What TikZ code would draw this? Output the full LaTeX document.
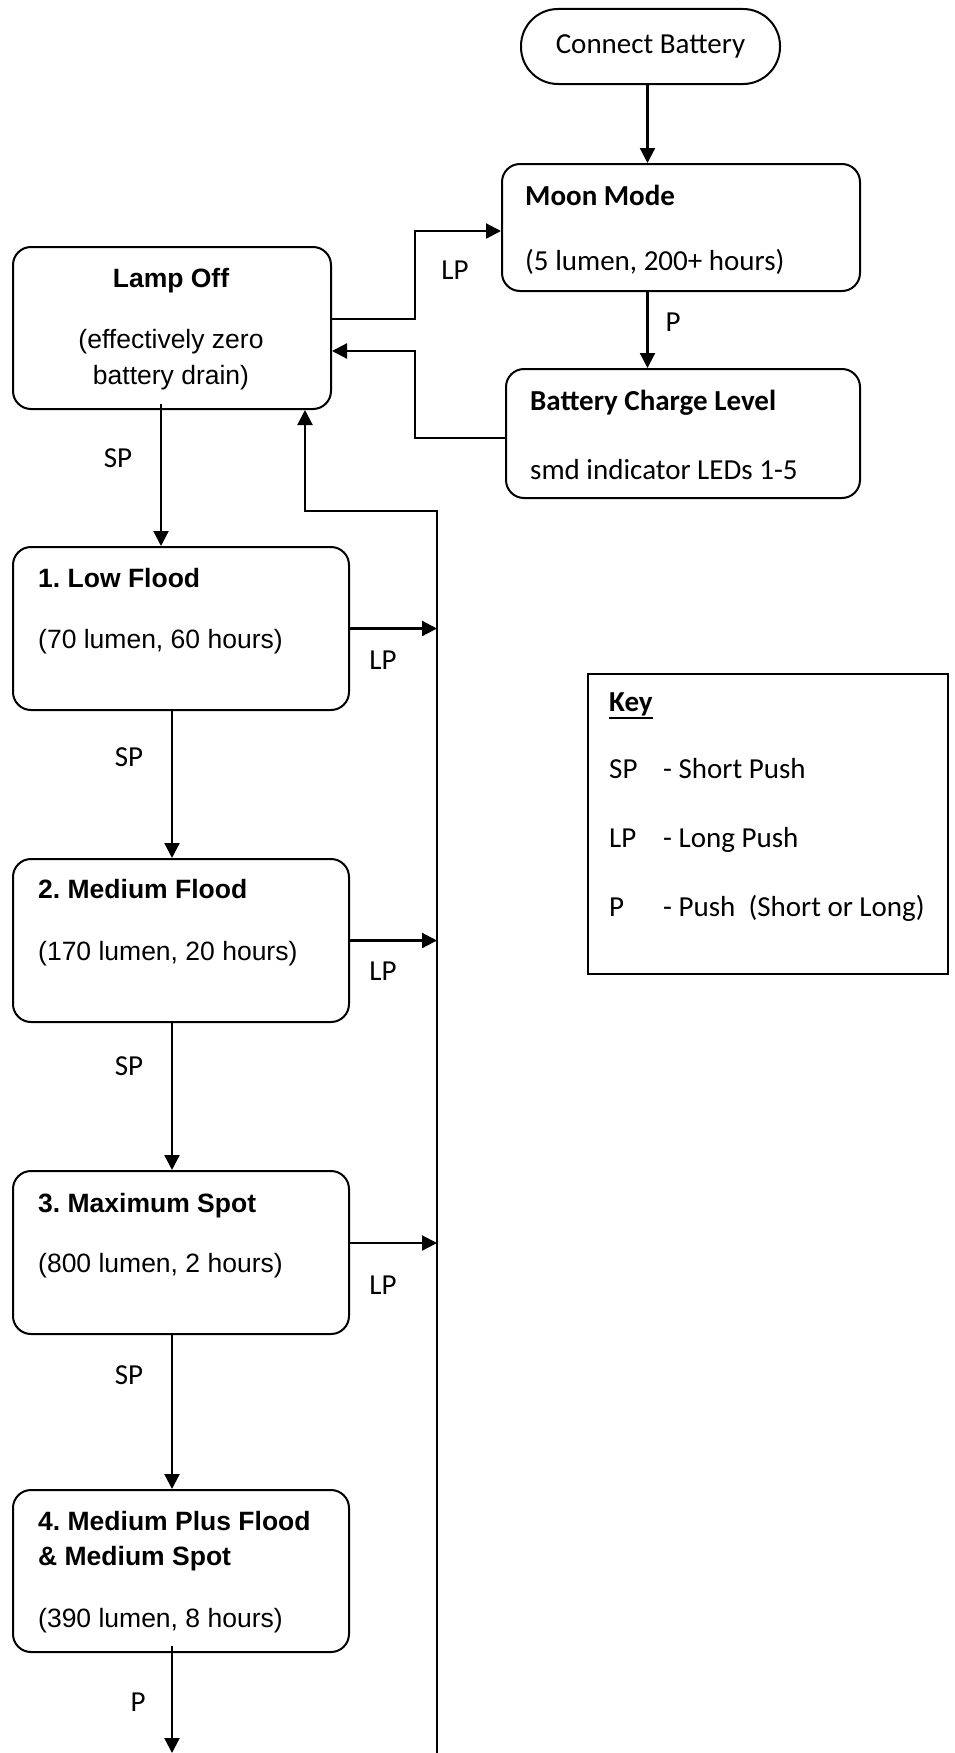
\documentclass[tikz,border=0pt]{standalone}
\usepackage{fontspec}
\setmainfont{Liberation Sans}
\newfontfamily\calibri{Carlito}
\usetikzlibrary{arrows.meta}
\frenchspacing
\newcommand\af{\fontsize{26.5pt}{36pt}\selectfont}
\newcommand\cf{\calibri\fontsize{29pt}{36pt}\selectfont}
\newcommand\ulkey[1]{\setbox0\hbox{#1}\rlap{\rule[-8pt]{\wd0}{2pt}}\box0}
\begin{document}
\begin{tikzpicture}[x=1pt,y=-1pt,
  box/.style={draw, line width=2pt, rounded corners=18pt, inner sep=0pt, anchor=north west},
  arr/.style={line width=2.2pt, -{Triangle[length=15pt,width=15pt]}},
  lab/.style={inner sep=0pt, anchor=center, font=\cf},
  tl/.style={inner sep=0pt, anchor=base west},
  tc/.style={inner sep=0pt, anchor=base}]
\useasboundingbox (0,0) rectangle (954,1753);

% nodes
\node[box, minimum width=259pt, minimum height=75pt, rounded corners=37pt, anchor=center, font=\cf] (cb) at (650.5,46.5) {Connect Battery};
\node[box, minimum width=358pt, minimum height=127pt] (moon) at (501,163) {};
\node[box, minimum width=354pt, minimum height=129pt] (bat) at (505,368) {};
\node[box, minimum width=318pt, minimum height=162pt] (lamp) at (12,246) {};
\node[box, minimum width=336pt, minimum height=163pt] (b1) at (12,546) {};
\node[box, minimum width=336pt, minimum height=163pt] (b2) at (12,858) {};
\node[box, minimum width=336pt, minimum height=163pt] (b3) at (12,1170) {};
\node[box, minimum width=336pt, minimum height=162pt] (b4) at (12,1489) {};
\node[draw, line width=2pt, minimum width=360pt, minimum height=300pt, anchor=north west, inner sep=0pt] (key) at (587,673) {};

% texts in boxes
\node[tl, font=\cf\bfseries] (t1) at (525,205) {Moon Mode};
\node[tl, font=\cf] (t2) at (525,270) {(5 lumen, 200+ hours)};
\node[tl, font=\cf\bfseries] (t3) at (530,410) {Battery Charge Level};
\node[tl, font=\cf] (t4) at (530,479) {smd indicator LEDs 1-5};
\node[tc, font=\af\bfseries] (t5) at (171,287) {Lamp Off};
\node[tc, font=\af] (t6) at (171,348) {(effectively zero};
\node[tc, font=\af] (t7) at (171,384) {battery drain)};
\node[tl, font=\af\bfseries] (t8) at (38,587) {1. Low Flood};
\node[tl, font=\af] (t9) at (38,648) {(70 lumen, 60 hours)};
\node[tl, font=\af\bfseries] (t10) at (38,898) {2. Medium Flood};
\node[tl, font=\af] (t11) at (38,960) {(170 lumen, 20 hours)};
\node[tl, font=\af\bfseries] (t12) at (38,1212) {3. Maximum Spot};
\node[tl, font=\af] (t13) at (38,1272) {(800 lumen, 2 hours)};
\node[tl, font=\af\bfseries] (t14) at (38,1530) {4. Medium Plus Flood};
\node[tl, font=\af\bfseries] (t15) at (38,1565) {\& Medium Spot};
\node[tl, font=\af] (t16) at (38,1627) {(390 lumen, 8 hours)};

% key texts
\node[tl, font=\cf\bfseries] (k0) at (609,711) {\ulkey{Key}};
\node[tl, font=\cf] (k1) at (609,778) {\makebox[54pt][l]{SP}- Short Push};
\node[tl, font=\cf] (k2) at (609,847) {\makebox[54pt][l]{LP}- Long Push};
\node[tl, font=\cf] (k3) at (609,916) {\makebox[54pt][l]{P}- Push\ \ (Short or Long)};

% helper coordinates
\coordinate (ax) at ([xshift=-3pt]cb.south);
\coordinate (jx) at (415,0);
\coordinate (lo) at ([yshift=9pt]lamp.east);
\coordinate (mi) at ([yshift=-3.5pt]moon.west);
\coordinate (bo) at ([yshift=-4.5pt]bat.west);
\coordinate (li) at ([yshift=-23pt]lamp.east);
\coordinate (lx) at ([xshift=-11pt]lamp.south);
\coordinate (lx0) at ([xshift=-11pt,yshift=6pt]lamp.south);
\coordinate (rb) at (437,1753);
\coordinate (ret) at (305,511);
\coordinate (b3e) at ([yshift=9.5pt]b3.east);
\coordinate (sx) at (172,0);
\coordinate (p0) at ([yshift=7pt]b4.south);
\coordinate (pend) at (172,1753);

% connectors
\draw[arr] (ax) -- (ax |- moon.north);
\draw[arr] (ax |- moon.south) -- (ax |- bat.north);
\draw[arr] (lo) -- (lo -| jx) -- (jx |- mi) -- (mi);
\draw[arr] (bo) -- (bo -| jx) -- (jx |- li) -- (li);
\draw[arr] (lx0) -- (lx |- b1.north);
\draw[arr] (rb) |- (ret) -- (ret |- lamp.south);
\draw[arr] (b1.east) -- (b1.east -| rb);
\draw[arr] (b2.east) -- (b2.east -| rb);
\draw[arr] (b3e) -- (b3e -| rb);
\draw[arr] (sx |- b1.south) -- (sx |- b2.north);
\draw[arr] (sx |- b2.south) -- (sx |- b3.north);
\draw[arr] (sx |- b3.south) -- (sx |- b4.north);
\draw[arr] (p0 -| sx) -- (pend);

% connector labels
\node[lab] (l1) at (455,270) {LP};
\node[lab] (l2) at (673,322) {P};
\node[lab] (l3) at (118,458) {SP};
\node[lab] (l4) at (383,660) {LP};
\node[lab] (l5) at (129,757) {SP};
\node[lab] (l6) at (383,971) {LP};
\node[lab] (l7) at (129,1066) {SP};
\node[lab] (l8) at (383,1285) {LP};
\node[lab] (l9) at (129,1375) {SP};
\node[lab] (l10) at (138,1702) {P};
\end{tikzpicture}
\end{document}
